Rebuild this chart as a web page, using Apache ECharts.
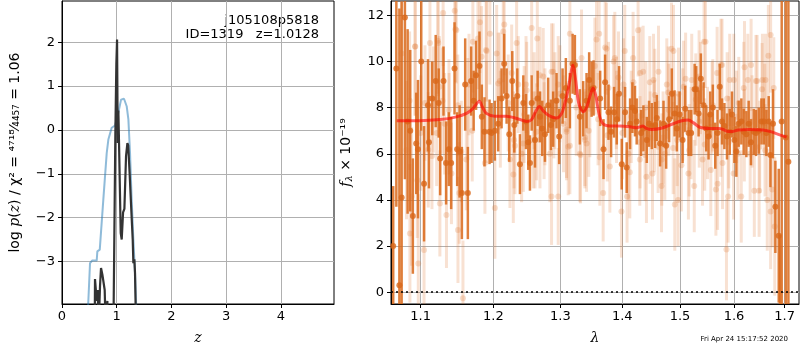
<!DOCTYPE html>
<html>
<head>
<meta charset="utf-8">
<script src="https://cdn.jsdelivr.net/npm/echarts@6/dist/echarts.min.js"></script>
<style>
html,body{margin:0;padding:0;background:#fff;}
#main{width:800px;height:350px;}
</style>
</head>
<body>
<div id="main"></div>
<script>
// 左图: log p(z)
var zTicks = [0, 1, 2, 3, 4];
var lnpTicks = [-3, -2, -1, 0, 1, 2];

// 蓝线 [z, log p]
var pzBlue = [[0.46,-4.5],[0.512,-3.04],[0.55,-2.98],[0.634,-2.98],[0.646,-2.77],[0.69,-2.73],
  [0.755,-1.59],[0.817,-0.53],[0.847,-0.22],[0.908,0.05],[0.969,0.1],[1.029,0.39],[1.079,0.69],
  [1.133,0.71],[1.182,0.54],[1.213,0.24],[1.243,-0.53],[1.273,-1.59],[1.304,-2.5],[1.334,-3.26],[1.37,-4.5]];

// 黑线 [z, log p]
var pzBlack = [[0.598,-4.5],[0.603,-3.4],[0.634,-3.9],[0.652,-3.65],[0.67,-4.5],[0.695,-3.55],[0.713,-3.15],
  [0.738,-3.3],[0.762,-3.27],[0.78,-3.65],[0.798,-4.5],[0.822,-4.5],[0.829,-3.9],[0.836,-4.5],[0.94,-4.5],
  [0.957,-2.35],[0.975,-0.07],[0.993,1.5],[1.006,2.06],[1.018,-0.3],[1.03,0.44],[1.042,-0.3],[1.073,-2.35],
  [1.091,-2.5],[1.116,-1.88],[1.14,-1.8],[1.17,-0.6],[1.195,-0.3],[1.21,-0.35],[1.235,-0.97],[1.263,-1.74],
  [1.292,-2.5],[1.304,-3.04],[1.322,-2.95],[1.334,-3.26],[1.353,-4.5]];

// 右图: 光谱
var lamTicks = [1.1, 1.2, 1.3, 1.4, 1.5, 1.6, 1.7];
var fluxTicks = [0, 2, 4, 6, 8, 10, 12];

var lamDark = [1.0645,1.0685,1.0724,1.0753,1.0795,1.0830,1.0864,1.0898,1.0942,1.0965,1.1008,1.1045,1.1097,1.1110,
  1.1154,1.1200,1.1240,1.1260,1.1305,1.1340,1.1377,1.1409,1.1455,1.1491,1.1525,1.1556,1.1602,1.1639,1.1685,
  1.1720,1.1754,1.1802,1.1835,1.1873,1.1945,
  1.1974,1.2021,1.2069,1.2118,1.2156,1.2191,1.2230,1.2274,1.2304,1.2348,1.2387,1.2437,1.2477,1.2511,1.2536,
  1.2562,1.2612,1.2652,1.2687,1.2722,1.2763,1.2813,1.2854,1.2889,1.2941,1.2982,1.3035,1.3086,1.3149,1.3192,
  1.3228,1.3307,1.3360,1.3414,1.3456,1.3495,
  1.3527,1.3634,1.3689,1.3715,1.3771,1.3814,1.3863,1.3908,1.3946,1.3991,1.4046,1.4074,1.4131,1.4170,1.4214,
  1.4243,1.4318,1.4358,1.4416,1.4455,1.4503,1.4560,1.4590,1.4647,1.4707,1.4754,1.4806,1.4854,1.4903,1.4944,
  1.4992,1.5047,1.5094,1.5155,1.5202,1.5265,
  1.5294,1.5337,1.5379,1.5429,1.5478,1.5521,1.5553,1.5601,1.5646,1.5689,1.5730,1.5773,1.5818,1.5867,1.5919,
  1.5962,1.6008,1.6046,1.6090,1.6142,1.6187,1.6239,1.6284,1.6329,1.6383,1.6427,1.6481,1.6534,1.6580,1.6633,
  1.6679,1.6713,1.6764,1.6812,1.6880,1.6905,1.6940,1.7022,1.7076];
var fluxDark = [2.0,9.7,0.3,4.1,11.9,7.4,7.0,3.3,6.45,6.2,10.0,4.7,8.1,6.5,
  8.4,9.15,8.2,5.8,9.15,5.6,6.2,5.6,9.7,6.2,6.1,4.3,9.0,4.3,9.15,
  8.3,9.4,9.8,7.6,6.95,6.95,
  6.9,7.0,7.3,8.4,9.9,8.5,6.85,9.15,7.25,8.5,5.55,8.2,7.4,6.5,5.6,
  8.2,6.6,8.4,7.6,7.1,6.85,8.1,7.25,7.5,8.3,6.75,8.5,8.85,8.3,9.9,
  9.85,7.6,7.95,8.3,9.2,8.8,
  8.85,8.4,6.2,9.1,7.8,6.95,7.8,7.5,8.6,5.55,7.8,5.4,7.3,8.0,7.85,
  7.4,6.9,7.1,6.6,7.3,7.2,7.25,7.55,6.45,7.3,6.35,7.5,8.6,7.75,7.1,
  7.7,6.6,7.95,6.9,6.9,8.8,
  8.8,7.75,9.25,8.1,7.1,6.75,7.7,8.0,6.35,6.9,8.9,7.4,7.2,6.75,6.95,
  7.7,6.6,6.1,7.3,7.4,6.95,6.85,7.3,6.5,6.95,6.9,7.0,7.4,7.4,6.9,
  7.4,5.95,7.3,3.7,2.45,-1.0,7.4,6.7,5.65];
var errDark = [2.6,6.0,12,8.5,7,4,3.5,2.5,2.2,3.0,3.0,2.5,2.0,2.0,
  1.6,2.0,1.5,1.6,1.5,1.8,1.6,2.0,2.0,1.6,2.0,2.0,2.0,2.0,1.5,
  1.3,1.5,1.5,1.4,1.5,1.4,
  1.3,1.3,1.2,1.3,1.3,1.2,1.2,1.3,1.2,1.2,1.3,1.2,1.2,1.2,1.2,
  1.2,1.2,1.2,1.1,1.2,1.2,1.2,1.1,1.2,1.2,1.2,1.2,1.3,1.2,1.3,
  1.3,1.2,1.2,1.2,1.2,1.2,
  1.2,1.2,1.3,1.2,1.2,1.1,1.1,1.1,1.2,1.1,1.1,1.1,1.1,1.1,1.1,
  1.0,1.0,1.0,1.0,1.0,1.0,1.0,1.0,1.0,1.0,1.0,1.0,1.1,1.0,1.0,
  1.0,1.0,1.0,1.0,1.0,1.1,
  1.0,1.0,1.1,1.0,1.0,1.0,1.0,1.0,1.0,1.0,1.0,1.0,1.0,1.0,1.0,
  1.0,1.0,1.1,1.0,1.0,1.0,1.0,1.0,1.0,1.0,1.0,1.0,1.0,1.0,1.0,
  1.1,1.4,1.5,2.0,2.9,3.5,14,14,14];

var lamFaint = [1.0753,1.0816,1.0860,1.0882,1.0926,1.0956,1.0969,1.1000,1.1045,1.1101,1.1123,1.1150,1.1167,
  1.1213,1.1234,1.1250,1.1256,1.1300,1.1320,1.1345,1.1380,1.1413,1.1457,1.1480,1.1500,1.1502,1.1520,1.1548,
  1.1571,1.1617,1.1639,1.1700,1.1709,1.1808,1.1832,1.1879,1.1900,1.1903,1.1950,1.2021,1.2069,1.2100,1.2142,
  1.2157,1.2240,1.2289,1.2300,1.2338,1.2412,1.2450,1.2487,1.2562,1.2600,1.2612,1.2647,1.2687,1.2750,1.2763,
  1.2838,1.2864,1.2889,1.2900,1.2967,1.2993,1.3050,1.3097,1.3123,1.3149,1.3250,1.3307,1.3334,1.3387,1.3450,
  1.3467,1.3548,1.3575,1.3600,1.3629,1.3683,1.3738,1.3750,1.3793,1.3875,1.3900,1.3903,1.3986,1.4000,1.4041,
  1.4080,1.4126,1.4150,1.4182,1.4267,1.4296,1.4300,1.4353,1.4400,1.4410,1.4468,1.4515,1.4550,1.4555,1.4613,
  1.4672,1.4700,1.4730,1.4789,1.4800,1.4848,1.4878,1.4907,1.4950,1.4966,1.5025,1.5050,1.5101,1.5166,1.5200,
  1.5258,1.5286,1.5347,1.5350,1.5410,1.5438,1.5450,1.5502,1.5563,1.5600,1.5658,1.5690,1.5750,1.5753,1.5783,
  1.5857,1.5888,1.5900,1.5919,1.5993,1.6050,1.6075,1.6140,1.6200,1.6203,1.6268,1.6313,1.6350,1.6394,1.6426,
  1.6488,1.6500,1.6554,1.6600,1.6606,1.6650,1.6672,1.6717,1.6717,1.6750,1.6800,
  1.0856,1.0930,1.1057,1.1227,1.1292,1.1379,1.1468,1.1655,1.1780,1.1896,
  1.2047,1.2094,1.2215,1.2265,1.2313,1.2362,1.2437,1.2477,1.2586,1.2636,1.2687,1.2737,1.2864,1.2915,1.2967,
  1.3097,1.3149,1.3318,1.3387,1.3414,
  1.3618,1.3716,1.3771,1.3854,1.3936,1.4019,1.4104,1.4188,1.4302,1.4387,1.4474,1.4532,1.4619,1.4678,1.4765,
  1.4884,1.4973,1.5064,1.5152,1.5212,
  1.5372,1.5464,1.5587,1.5681,1.5774,1.5870,1.5997,1.6092,1.6188,1.6331,1.6449,1.6547,1.6614,1.6780];
var fluxFaint = [10.35,6.16,2.55,4.15,10.65,4.85,1.25,6.9,1.83,6.17,10.8,5.9,8.35,
  6.9,10.8,8.9,3.85,12.1,7.3,3.35,7.3,5.15,12.2,11.35,8.1,2.7,4.3,6.1,
  -0.26,5.75,7.95,7.0,10.85,11.7,10.2,5.6,7.8,10.45,11.2,3.65,9.05,7.5,11.3,
  11.6,5.75,5.1,6.6,10.8,6.0,7.7,8.75,11.45,8.3,6.6,11.0,9.4,7.0,7.6,
  6.0,4.15,9.55,7.9,4.15,8.6,7.3,7.05,6.3,11.2,8.0,6.0,10.15,6.6,7.0,
  7.95,9.8,10.95,7.5,5.85,4.3,10.55,6.8,5.45,10.15,8.2,7.6,3.5,6.9,10.45,
  4.15,5.2,7.6,10.15,11.35,5.75,6.5,9.55,8.0,5.0,9.1,5.15,7.2,8.55,6.3,
  4.6,6.7,6.0,8.65,7.9,10.55,6.25,3.8,6.6,4.0,5.5,7.7,9.25,6.15,6.9,
  4.6,8.35,9.35,7.4,5.75,10.85,6.4,6.9,5.3,8.1,4.45,4.7,7.0,9.85,5.6,
  1.85,4.15,6.5,9.2,5.15,7.6,6.0,4.15,6.8,9.75,9.2,6.0,7.4,4.4,9.15,
  4.4,6.3,9.2,7.9,6.15,4.0,10.25,11.15,3.5,4.45,2.85,
  8.3,10.65,8.2,10.9,8.3,7.9,11.4,9.0,11.0,10.5,
  10.35,9.15,8.2,9.5,6.35,9.0,6.45,9.0,6.6,6.95,6.6,9.35,9.55,8.3,9.0,
  6.95,6.35,5.95,6.7,6.45,
  11.2,10.6,8.85,10.0,9.3,9.0,6.0,9.1,9.5,5.95,6.7,9.2,9.55,5.75,9.0,
  10.45,8.6,8.9,5.15,9.2,
  8.85,10.85,8.0,9.5,9.85,8.4,9.2,8.2,8.85,9.85,9.15,8.8,9.2,8.85];
var errFaint = [3,3,3,3,3,2.5,3,2.5,3,2.5,2.5,2.3,2.3,
  2.3,2.3,2.2,2.3,2.3,2.2,2.3,2.2,2.2,2.3,2.3,2.2,2.3,2.2,2.2,
  2.5,2.2,2.2,2.2,2.2,2.2,2.2,2.2,2.2,2.2,2.2,2.2,2.2,2.1,2.2,
  2.2,2.1,2.1,2.1,2.1,2.1,2.1,2.1,2.1,2.1,2.1,2.1,2.1,2.1,2.1,
  2.1,2.1,2.1,2.1,2.1,2.1,2.1,2.1,2.1,2.1,2.1,2.1,2.1,2.1,2.0,
  2.1,2.1,2.1,2.0,2.1,2.1,2.0,2.0,2.0,2.0,2.0,2.0,2.0,2.0,2.0,
  2.0,2.0,2.0,2.0,2.0,2.0,2.0,2.0,2.0,2.0,2.0,2.0,2.0,2.0,2.0,
  2.0,2.0,2.0,2.0,2.0,2.0,2.0,2.0,2.0,2.0,2.0,2.0,2.0,2.0,2.0,
  2.0,2.0,2.0,2.0,2.0,2.0,2.0,2.0,2.0,2.0,2.0,2.0,2.0,2.0,2.0,
  2.2,2.0,2.0,2.0,2.0,2.0,2.0,2.0,2.0,2.0,2.0,2.0,2.0,2.0,2.0,
  2.0,2.0,2.0,2.0,2.0,2.2,2.2,2.5,2.5,2.5,3,
  3,3,2.5,2.3,2.3,2.2,2.3,2.2,2.2,2.2,
  2.1,2.1,2.1,2.1,2.1,2.1,2.1,2.1,2.1,2.1,2.1,2.1,2.1,2.1,2.1,
  2.1,2.1,2.1,2.1,2.1,
  2.0,2.0,2.0,2.0,2.0,2.0,2.0,2.0,2.0,2.0,2.0,2.0,2.0,2.0,2.0,
  2.0,2.0,2.0,2.0,2.0,
  2.0,2.0,2.0,2.0,2.0,2.0,2.0,2.0,2.0,2.0,2.0,2.0,2.0,2.2];

// 红色模型线
var lamModel = [1.069,1.098,1.126,1.148,1.162,1.171,1.180,1.184,1.190,1.202,1.219,1.234,1.249,1.256,1.263,
  1.268,1.274,1.284,1.294,1.302,1.307,1.312,1.318,1.320,1.324,1.329,1.336,1.342,1.348,1.352,1.356,1.362,
  1.368,1.379,1.396,1.413,1.424,1.435,1.441,1.450,1.470,1.488,1.503,1.515,1.524,1.536,1.554,1.573,1.589,
  1.598,1.608,1.630,1.656,1.670,1.690,1.704];
var fluxModel = [7.43,7.43,7.48,7.6,7.75,7.96,8.28,8.05,7.75,7.63,7.63,7.53,7.4,7.48,7.88,
  8.05,7.85,7.63,7.55,7.75,8.18,8.75,9.7,9.84,9.2,8.18,7.82,8.05,8.6,8.85,8.55,7.68,
  7.3,7.2,7.2,7.17,7.13,7.2,7.1,7.05,7.13,7.3,7.43,7.46,7.35,7.15,7.1,7.1,6.97,
  6.97,7.03,7.05,7.03,6.97,6.82,6.72];

var lamMin = 1.0617, lamMax = 1.7294;

var gridColor = '#b0b0b0';

function minusFmt(v) {
  return v < 0 ? '\u2212' + Math.abs(v) : String(v);
}

function toLog(lams, vals, errs) {
  var out = [];
  for (var i = 0; i < lams.length; i++) {
    out.push(errs ? [Math.log10(lams[i]), vals[i], errs[i]] : [Math.log10(lams[i]), vals[i]]);
  }
  return out;
}

// 误差棒
function errBars(color, w) {
  return function (params, api) {
    var x = api.value(0), y = api.value(1), e = api.value(2);
    var p1 = api.coord([x, y - e]);
    var p2 = api.coord([x, y + e]);
    return {
      type: 'line',
      shape: {x1: p1[0], y1: p1[1], x2: p2[0], y2: p2[1]},
      style: {stroke: color, lineWidth: w}
    };
  };
}

var axisFont = {fontFamily: 'DejaVu Sans', fontSize: 13, color: '#000'};

var myChart = echarts.init(document.getElementById('main'));

var option = {
  animation: false,
  textStyle: {fontFamily: 'DejaVu Sans'},
  grid: [
    {left: 62, top: 1, width: 272, height: 303, show: true, borderColor: '#000', borderWidth: 1},
    {left: 391, top: 1, width: 408, height: 303, show: true, borderColor: '#000', borderWidth: 1}
  ],
  xAxis: [
    {
      gridIndex: 0, type: 'value', min: 0, max: 4.97,
      name: 'z', nameLocation: 'middle', nameGap: 27,
      nameTextStyle: {fontFamily: 'DejaVu Serif', fontStyle: 'italic', fontSize: 14, color: '#000'},
      axisLine: {show: true, onZero: false, lineStyle: {color: '#000'}},
      axisTick: {show: true, length: 4, customValues: zTicks, lineStyle: {color: '#000'}},
      axisLabel: Object.assign({customValues: zTicks, margin: 6}, axisFont),
      splitLine: {show: true, lineStyle: {color: gridColor, width: 1}}
    },
    {
      gridIndex: 1, type: 'value', min: Math.log10(lamMin), max: Math.log10(lamMax),
      name: '\u03bb', nameLocation: 'middle', nameGap: 27,
      nameTextStyle: {fontFamily: 'DejaVu Serif', fontStyle: 'italic', fontSize: 14, color: '#000'},
      axisLine: {show: true, onZero: false, lineStyle: {color: '#000'}},
      axisTick: {show: true, length: 4, customValues: lamTicks.map(Math.log10), lineStyle: {color: '#000'}},
      axisLabel: Object.assign({
        customValues: lamTicks.map(Math.log10), margin: 6,
        formatter: function (v) { return Math.pow(10, v).toFixed(1); }
      }, axisFont),
      splitLine: {show: true, lineStyle: {color: gridColor, width: 1}}
    }
  ],
  yAxis: [
    {
      gridIndex: 0, type: 'value', min: -3.97, max: 2.94,
      name: 'log {i|p}({i|z}) / \u03c7\u00b2 = \u2074\u2077\u00b9\u2078\u2044\u2084\u2084\u2085\u2087 = 1.06',
      nameLocation: 'middle', nameGap: 40,
      nameTextStyle: {
        fontFamily: 'DejaVu Sans', fontSize: 14, color: '#000',
        rich: {i: {fontFamily: 'DejaVu Serif', fontStyle: 'italic', fontSize: 14, color: '#000'}}
      },
      axisLine: {show: true, onZero: false, lineStyle: {color: '#000'}},
      axisTick: {show: true, length: 4, customValues: lnpTicks, lineStyle: {color: '#000'}},
      axisLabel: Object.assign({customValues: lnpTicks, margin: 7, formatter: minusFmt}, axisFont),
      splitLine: {show: true, lineStyle: {color: gridColor, width: 1}}
    },
    {
      gridIndex: 1, type: 'value', min: -0.51, max: 12.62,
      name: '{i|f}{s|\u03bb} \u00d7 10\u207b\u00b9\u2079',
      nameLocation: 'middle', nameGap: 37,
      nameTextStyle: {
        fontFamily: 'DejaVu Sans', fontSize: 14, color: '#000',
        rich: {
          i: {fontFamily: 'DejaVu Serif', fontStyle: 'italic', fontSize: 14, color: '#000'},
          s: {fontFamily: 'DejaVu Serif', fontStyle: 'italic', fontSize: 10, color: '#000', padding: [6, 0, 0, 0]}
        }
      },
      axisLine: {show: true, onZero: false, lineStyle: {color: '#000'}},
      axisTick: {show: true, length: 4, customValues: fluxTicks, lineStyle: {color: '#000'}},
      axisLabel: Object.assign({customValues: fluxTicks, margin: 7, formatter: minusFmt}, axisFont),
      splitLine: {show: true, lineStyle: {color: gridColor, width: 1}}
    }
  ],
  graphic: [
    {type: 'text', x: 319, y: 21, style: {text: 'j105108p5818', fill: '#000', font: '13px "DejaVu Sans"', align: 'right', verticalAlign: 'middle'}},
    {type: 'text', x: 319, y: 35, style: {text: 'ID=1319   z=1.0128', fill: '#000', font: '13px "DejaVu Sans"', align: 'right', verticalAlign: 'middle'}},
    {type: 'text', x: 788, y: 339, style: {text: 'Fri Apr 24 15:17:52 2020', fill: '#000', font: '7px "DejaVu Sans"', align: 'right', verticalAlign: 'middle'}}
  ],
  series: [
    {
      type: 'line', xAxisIndex: 0, yAxisIndex: 0, data: pzBlue, showSymbol: false, clip: true,
      lineStyle: {color: 'rgba(31,119,180,0.5)', width: 2}
    },
    {
      type: 'line', xAxisIndex: 0, yAxisIndex: 0, data: pzBlack, showSymbol: false, clip: true,
      lineStyle: {color: '#333333', width: 2.2}
    },
    {
      type: 'custom', xAxisIndex: 1, yAxisIndex: 1, clip: true,
      data: toLog(lamFaint, fluxFaint, errFaint),
      renderItem: errBars('rgba(224,120,50,0.22)', 3)
    },
    {
      type: 'scatter', xAxisIndex: 1, yAxisIndex: 1, symbolSize: 6,
      data: toLog(lamFaint, fluxFaint),
      itemStyle: {color: 'rgba(224,120,50,0.3)'}
    },
    {
      type: 'custom', xAxisIndex: 1, yAxisIndex: 1, clip: true,
      data: toLog(lamDark, fluxDark, errDark),
      renderItem: errBars('rgba(217,104,26,0.85)', 2.5)
    },
    {
      type: 'scatter', xAxisIndex: 1, yAxisIndex: 1, symbolSize: 6, clip: true,
      data: toLog(lamDark, fluxDark),
      itemStyle: {color: '#d9681a'}
    },
    {
      type: 'line', xAxisIndex: 1, yAxisIndex: 1, data: toLog(lamModel, fluxModel),
      showSymbol: false, smooth: 0.3, clip: true,
      lineStyle: {color: 'rgba(255,0,0,0.6)', width: 3},
      markLine: {
        silent: true, symbol: 'none', label: {show: false},
        lineStyle: {color: '#000', type: [2, 3], width: 1.5},
        data: [{yAxis: 0}]
      }
    }
  ]
};

myChart.setOption(option);
</script>
</body>
</html>
